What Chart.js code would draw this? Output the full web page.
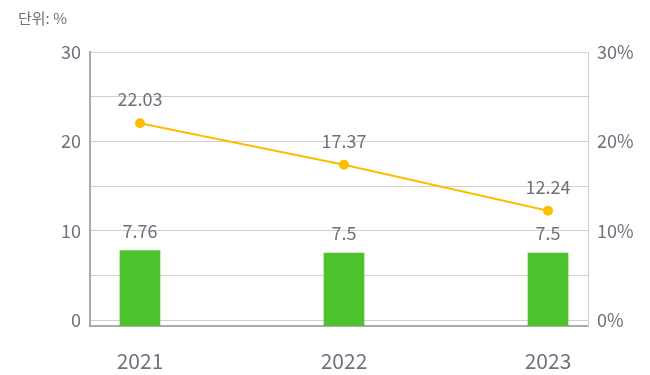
<!DOCTYPE html>
<html>
<head>
<meta charset="utf-8">
<script src="https://cdn.jsdelivr.net/npm/chart.js@4/dist/chart.umd.min.js"></script>
<style>
  body { margin: 0; background: #fff; }
  #wrap { position: relative; width: 650px; height: 375px; }
  #unit {
    position: absolute; left: 18px; top: 7px;
    font: 15px "Noto Sans CJK KR", "Noto Sans", sans-serif; color: #70707c;
  }
</style>
</head>
<body>
<div id="wrap">
  <div id="unit">단위: %</div>
  <canvas id="chart" width="650" height="375"></canvas>
</div>
<script>
// chart values
const years = [2021, 2022, 2023];
const barValues = [7.76, 7.5, 7.5];
const lineValues = [22.03, 17.37, 12.24];
const leftTicks = [0, 5, 10, 15, 20, 25, 30];
const rightTicks = [0, 10, 20, 30];

const textColor = "#70707c";
const fontFamily = '"Noto Sans CJK KR", "Noto Sans", sans-serif';

// draws the value above each bar / point
const valueLabels = {
  id: "valueLabels",
  afterDatasetsDraw(chart) {
    const ctx = chart.ctx;
    ctx.save();
    ctx.font = "18px " + fontFamily;
    ctx.fillStyle = textColor;
    ctx.textAlign = "center";
    ctx.textBaseline = "middle";
    chart.data.datasets.forEach((ds, i) => {
      const meta = chart.getDatasetMeta(i);
      const gap = ds.type === "line" ? 24 : 20;
      meta.data.forEach((el, j) => {
        ctx.fillText(String(ds.labels[j]), el.x, el.y - gap);
      });
    });
    ctx.restore();
  },
};

const yMin = -0.67;

new Chart(document.getElementById("chart"), {
  type: "bar",
  data: {
    datasets: [
      {
        type: "line",
        data: years.map((y, i) => ({ x: y, y: lineValues[i] })),
        labels: lineValues,
        yAxisID: "y2",
        borderColor: "#fbbf00",
        backgroundColor: "#fbbf00",
        borderWidth: 2,
        pointRadius: 4,
        pointHoverRadius: 4,
        tension: 0,
      },
      {
        type: "bar",
        data: years.map((y, i) => ({ x: y, y: barValues[i] })),
        labels: barValues,
        yAxisID: "y",
        base: yMin,
        backgroundColor: "#4cc22e",
        barThickness: 40,
      },
    ],
  },
  options: {
    responsive: false,
    animation: false,
    layout: { padding: { top: 52, left: 0, right: 0, bottom: 0 } },
    plugins: { legend: { display: false }, tooltip: { enabled: false } },
    scales: {
      x: {
        type: "linear",
        offset: false,
        min: 2020.755,
        max: 2023.196,
        afterBuildTicks: (s) => { s.ticks = years.map((v) => ({ value: v })); },
        afterFit: (s) => { s.height = 49; },
        grid: { display: false, offset: false },
        border: { display: true, color: "#aaaaaa", width: 2 },
        ticks: {
          padding: 14,
          color: textColor,
          font: { family: fontFamily, size: 21 },
          callback: (v) => String(v),
        },
      },
      y: {
        position: "left",
        min: yMin,
        max: 30,
        afterBuildTicks: (s) => { s.ticks = leftTicks.map((v) => ({ value: v })); },
        afterFit: (s) => { s.width = 90; },
        grid: { color: "#d0d0d0", lineWidth: 1, drawTicks: false },
        border: { display: true, color: "#aaaaaa", width: 2 },
        ticks: {
          padding: 9,
          color: textColor,
          font: { family: fontFamily, size: 18 },
          callback: (v) => (v % 10 === 0 ? String(v) : ""),
        },
      },
      y2: {
        position: "right",
        min: yMin,
        max: 30,
        afterBuildTicks: (s) => { s.ticks = rightTicks.map((v) => ({ value: v })); },
        afterFit: (s) => { s.width = 62; },
        grid: { display: false, drawTicks: false },
        border: { display: true, color: "#cccccc", width: 1 },
        ticks: {
          padding: 9,
          color: textColor,
          font: { family: fontFamily, size: 18 },
          callback: (v) => v + "%",
        },
      },
    },
  },
  plugins: [valueLabels],
});
</script>
</body>
</html>
